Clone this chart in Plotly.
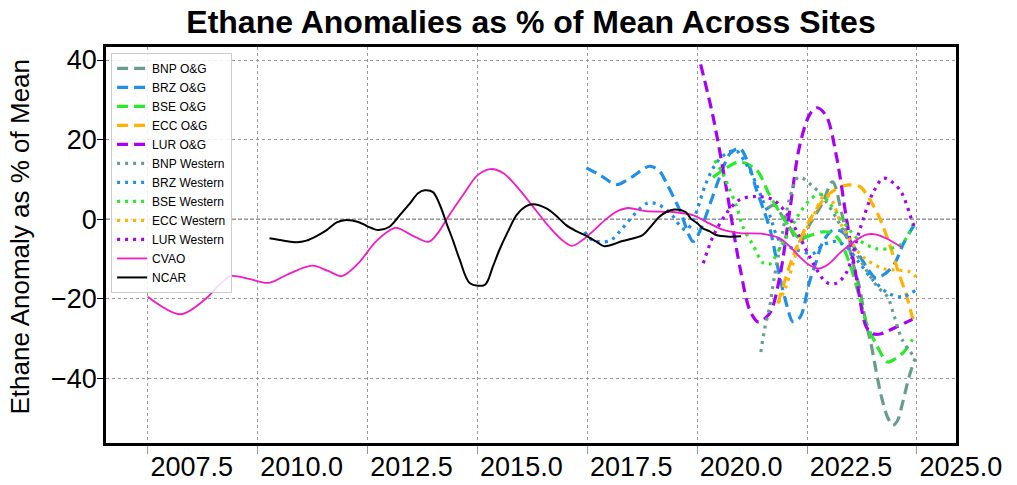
import plotly.graph_objects as go

# ---- data: ethane anomaly (% of site mean) by decimal year ----
ncar_year = [2010.27, 2010.6, 2010.89, 2011.11, 2011.35, 2011.57, 2011.8, 2011.98, 2012.29, 2012.5,
             2012.74, 2013.0, 2013.25, 2013.46, 2013.65, 2013.8, 2013.99, 2014.15, 2014.3, 2014.45,
             2014.6, 2014.83, 2015.17, 2015.35, 2015.5, 2015.7, 2015.89, 2016.1, 2016.27, 2016.57,
             2016.8, 2017.02, 2017.25, 2017.48, 2017.7, 2017.89, 2018.3, 2018.76, 2018.95, 2019.14,
             2019.3, 2019.48, 2019.74, 2019.85, 2020.0, 2020.13, 2020.28, 2020.43, 2020.73, 2021.0]
ncar_val = [-4.8, -5.4, -5.8, -5.4, -4.2, -2.75, -0.8, -0.25, -0.7, -1.8,
            -2.75, -1.9, 1.2, 3.9, 6.5, 7.25, 6.8, 3.5, -1.1, -5.5,
            -10.25, -16.1, -16.5, -12.0, -7.75, -3.0, 1.0, 3.2, 3.75, 2.7,
            0.8, -1.5, -3.0, -4.2, -5.6, -6.8, -5.5, -4.0, -1.8, 0.6,
            1.8, 2.4, 1.8, 0.2, -1.0, -2.3, -3.0, -4.0, -4.4, -4.3]

cvao_year = [2007.5, 2008.25, 2008.84, 2009.1, 2009.39, 2009.8, 2010.25, 2010.7, 2011.24, 2011.6,
             2011.92, 2012.3, 2012.7, 2013.14, 2013.5, 2013.89, 2014.1, 2014.3, 2014.7, 2015.0,
             2015.3, 2015.6, 2015.95, 2016.27, 2016.6, 2016.9, 2017.15, 2017.4, 2017.65, 2017.93,
             2018.15, 2018.42, 2018.84, 2019.45, 2019.9, 2020.3, 2020.6, 2020.97, 2021.5, 2021.88,
             2022.1, 2022.33, 2022.55, 2022.78, 2023.0, 2023.24, 2023.55, 2023.85, 2024.05, 2024.3,
             2024.64]
cvao_val = [-19.5, -23.9, -19.8, -16.8, -14.3, -15.0, -16.0, -13.8, -11.7, -13.0,
            -14.3, -11.0, -5.5, -2.2, -4.0, -5.7, -3.5, 0.0, 6.5, 11.0,
            12.6, 11.5, 7.5, 3.1, -1.5, -5.0, -6.7, -5.2, -2.8, 0.0,
            1.8, 2.8, 2.0, 1.8, 1.0, -1.2, -2.7, -3.5, -3.7, -4.8,
            -6.8, -9.4, -11.5, -12.4, -11.2, -8.6, -5.8, -3.9, -3.8, -4.8,
            -7.0]

brz_og_year = [2017.48, 2017.8, 2018.17, 2018.5, 2018.92, 2019.15, 2019.3, 2019.6, 2019.91, 2020.1,
               2020.3, 2020.52, 2020.75, 2020.97, 2021.19, 2021.34, 2021.53, 2021.68, 2021.88, 2022.05,
               2022.18, 2022.35, 2022.55, 2022.7, 2022.85, 2023.08, 2023.3, 2023.6, 2023.85, 2024.07,
               2024.45, 2024.7, 2024.98]
brz_og_val = [12.9, 11.0, 8.7, 10.5, 13.3, 12.0, 9.1, 2.4, -5.6, -2.0,
              4.0, 10.8, 16.5, 17.8, 13.2, 7.7, 1.8, -3.5, -14.5, -22.0,
              -25.8, -24.5, -16.0, -11.0, -6.0, -2.8, -3.2, -7.5, -11.9, -14.8,
              -11.9, -6.0, -0.7]

lur_og_year = [2020.08, 2020.36, 2020.67, 2020.97, 2021.2, 2021.39, 2021.65, 2021.88, 2022.11, 2022.33,
               2022.56, 2022.73, 2022.94, 2023.17, 2023.39, 2023.62, 2023.85, 2024.0, 2024.19, 2024.53,
               2024.9]
lur_og_val = [38.9, 25.9, 7.4, -11.9, -22.9, -25.8, -23.7, -14.5, 2.4, 18.3,
              26.3, 28.0, 25.9, 15.8, 0.7, -14.5, -27.1, -28.8, -28.8, -27.1,
              -25.2]

bse_og_year = [2020.36, 2020.67, 2020.96, 2021.35, 2021.65, 2021.9, 2022.1, 2022.33, 2022.6, 2022.85,
               2023.05, 2023.24, 2023.47, 2023.69, 2023.88, 2024.07, 2024.33, 2024.52, 2024.7, 2024.9]
bse_og_val = [10.5, 12.9, 14.4, 12.4, 6.0, 1.4, -1.9, -4.8, -4.0, -3.2,
              -3.4, -5.3, -11.1, -19.5, -27.0, -31.3, -35.9, -35.0, -33.4, -30.2]

ecc_og_year = [2021.84, 2022.18, 2022.56, 2022.94, 2023.2, 2023.46, 2023.7, 2023.84, 2024.14, 2024.37,
               2024.6, 2024.75, 2024.91]
ecc_og_val = [-21.2, -9.4, -0.2, 5.7, 7.8, 8.6, 8.2, 6.5, 0.6, -6.1,
              -14.0, -18.7, -25.2]

bnp_og_year = [2021.6, 2021.76, 2021.95, 2022.1, 2022.25, 2022.37, 2022.55, 2022.85, 2023.08, 2023.3,
               2023.5, 2023.69, 2023.84, 2023.95, 2024.07, 2024.18, 2024.33, 2024.45, 2024.56, 2024.67,
               2024.82, 2024.96]
bnp_og_val = [2.7, 3.5, 0.5, -1.9, -5.0, -5.5, -1.5, 4.0, 9.4, 1.0,
              -9.0, -17.0, -26.0, -31.0, -38.0, -44.0, -49.7, -51.8, -50.6, -46.4,
              -39.7, -35.0]

bnp_w_year = [2021.45, 2021.53, 2021.65, 2021.75, 2021.85, 2021.95, 2022.1, 2022.3, 2022.45, 2022.6,
              2022.8, 2023.15, 2023.5, 2023.85, 2024.1, 2024.33, 2024.49, 2024.67, 2024.97]
bnp_w_val = [-33.4, -27.9, -22.0, -15.0, -9.0, -3.0, 5.0, 10.5, 10.0, 8.5,
             6.5, 0.6, -6.5, -12.8, -17.0, -19.5, -24.6, -30.4, -35.0]

brz_w_year = [2017.44, 2017.62, 2018.0, 2018.25, 2018.46, 2018.84, 2019.07, 2019.4, 2019.6, 2019.75,
              2019.9, 2020.0, 2020.2, 2020.43, 2020.66, 2020.89, 2021.11, 2021.34, 2021.5, 2021.65,
              2021.88, 2022.26, 2022.64, 2022.86, 2023.17, 2023.39, 2023.7, 2024.0, 2024.38, 2024.68,
              2024.98]
brz_w_val = [-3.2, -5.3, -5.5, -3.0, -0.2, 3.9, 3.9, 1.4, -1.5, -2.8,
             -0.5, 2.3, 9.0, 14.0, 16.5, 17.2, 14.0, 9.0, 4.5, 1.0,
             -5.5, -7.7, -8.6, -6.5, -5.6, -6.9, -11.1, -15.3, -18.8, -19.5,
             -17.8]

bse_w_year = [2020.4, 2020.58, 2020.73, 2020.9, 2021.04, 2021.27, 2021.5, 2021.65, 2021.87, 2022.03,
              2022.33, 2022.6, 2022.8, 2023.0, 2023.3, 2023.69, 2024.07, 2024.37, 2024.67, 2024.9]
bse_w_val = [14.8, 11.5, 7.7, 3.1, -1.9, -6.5, -11.0, -11.3, -7.5, -4.4,
             1.5, 5.2, 6.3, 4.2, -0.3, -5.3, -7.4, -7.4, -6.1, -1.5]

ecc_w_year = [2021.85, 2022.02, 2022.33, 2022.64, 2022.9, 2023.05, 2023.3, 2023.53, 2023.77, 2024.22,
              2024.52, 2024.83, 2024.98]
ecc_w_val = [-21.0, -17.0, -6.1, 0.7, 6.0, 5.0, -1.9, -6.1, -9.5, -12.4,
             -12.8, -13.2, -14.5]

lur_w_year = [2020.14, 2020.36, 2020.67, 2020.97, 2021.35, 2021.73, 2022.03, 2022.33, 2022.64, 2022.94,
              2023.17, 2023.39, 2023.7, 2024.0, 2024.25, 2024.61, 2024.91, 2024.98]
lur_w_val = [-11.1, -4.4, 1.5, 4.9, 5.7, 4.9, 1.5, -4.4, -11.1, -15.9,
             -16.1, -13.6, -2.7, 6.6, 10.3, 7.4, -1.0, -2.7]

x_ticks = [2007.5, 2010.0, 2012.5, 2015.0, 2017.5, 2020.0, 2022.5, 2025.0]
y_ticks = [-40, -20, 0, 20, 40]

# ---- styling ----
site_colors = {
    "BNP": "#689d8c",
    "BRZ": "#1f8fea",
    "BSE": "#28ec28",
    "ECC": "#ffb300",
    "LUR": "#a800f5",
}
DASHED = "11px,6px"
DOTTED = "3px,5px"

series = [
    ("BNP O&G", bnp_og_year, bnp_og_val, site_colors["BNP"], DASHED, 3.2),
    ("BRZ O&G", brz_og_year, brz_og_val, site_colors["BRZ"], DASHED, 3.2),
    ("BSE O&G", bse_og_year, bse_og_val, site_colors["BSE"], DASHED, 3.2),
    ("ECC O&G", ecc_og_year, ecc_og_val, site_colors["ECC"], DASHED, 3.2),
    ("LUR O&G", lur_og_year, lur_og_val, site_colors["LUR"], DASHED, 3.2),
    ("BNP Western", bnp_w_year, bnp_w_val, site_colors["BNP"], DOTTED, 3.2),
    ("BRZ Western", brz_w_year, brz_w_val, site_colors["BRZ"], DOTTED, 3.2),
    ("BSE Western", bse_w_year, bse_w_val, site_colors["BSE"], DOTTED, 3.2),
    ("ECC Western", ecc_w_year, ecc_w_val, site_colors["ECC"], DOTTED, 3.2),
    ("LUR Western", lur_w_year, lur_w_val, site_colors["LUR"], DOTTED, 3.2),
    ("CVAO", cvao_year, cvao_val, "#f21bc5", "solid", 1.8),
    ("NCAR", ncar_year, ncar_val, "#000000", "solid", 2.0),
]

FONT = "Liberation Sans, Arial, Helvetica, sans-serif"

fig = go.Figure()
for name, xs, ys, color, dash, width in series:
    fig.add_trace(go.Scatter(
        x=xs, y=ys, mode="lines", name=name,
        line=dict(color=color, dash=dash, width=width, shape="spline", smoothing=0.9),
    ))

# dashed reference line at zero
fig.add_shape(type="line", xref="paper", x0=0, x1=1, yref="y", y0=0, y1=0,
              line=dict(color="#555555", width=1, dash="4px,2px"), layer="below")

fig.update_layout(
    width=1017, height=485,
    margin=dict(l=106, r=61, t=47, b=42),
    paper_bgcolor="white", plot_bgcolor="white",
    font=dict(family=FONT, color="black"),
    title=dict(text="<b>Ethane Anomalies as % of Mean Across Sites</b>",
               font=dict(size=32, family=FONT, color="black"),
               x=0.5, xref="paper", xanchor="center",
               y=1 - 22 / 485, yref="container", yanchor="middle"),
    showlegend=True,
    legend=dict(x=0.006, y=0.985, xanchor="left", yanchor="top",
                bgcolor="rgba(255,255,255,0.85)", bordercolor="#cccccc", borderwidth=1,
                font=dict(size=12, family=FONT, color="black"),
                tracegroupgap=0, itemwidth=30),
    annotations=[dict(text="Ethane Anomaly as % of Mean", textangle=-90,
                      xref="paper", yref="paper", x=(20 - 106) / 850, y=(443 - 236.5) / 396,
                      xanchor="center", yanchor="middle", showarrow=False,
                      font=dict(size=26, family=FONT, color="black"))],
)

fig.update_xaxes(
    range=[2006.55, 2025.89], tickvals=x_ticks,
    ticktext=[f"{v:.1f}" for v in x_ticks],
    tickfont=dict(size=27, family=FONT, color="black"),
    ticklabelshift=44, ticklabelstandoff=-10,
    ticks="outside", ticklen=8, tickcolor="#999999", tickwidth=1,
    showgrid=True, gridcolor="#999999", griddash="dot", gridwidth=1,
    zeroline=False, showline=True, linecolor="black", linewidth=2.5, mirror=True,
    automargin=False,
)
fig.update_yaxes(
    range=[-56.26, 43.27], tickvals=y_ticks,
    ticktext=["\u221240", "\u221220", "0", "20", "40"],
    tickfont=dict(size=27, family=FONT, color="black"),
    ticklabelstandoff=-5,
    ticks="outside", ticklen=6, tickcolor="black", tickwidth=1,
    showgrid=True, gridcolor="#999999", griddash="dot", gridwidth=1,
    zeroline=False, showline=True, linecolor="black", linewidth=2.5, mirror=True,
    automargin=False,
)

fig.write_html("out.html")
